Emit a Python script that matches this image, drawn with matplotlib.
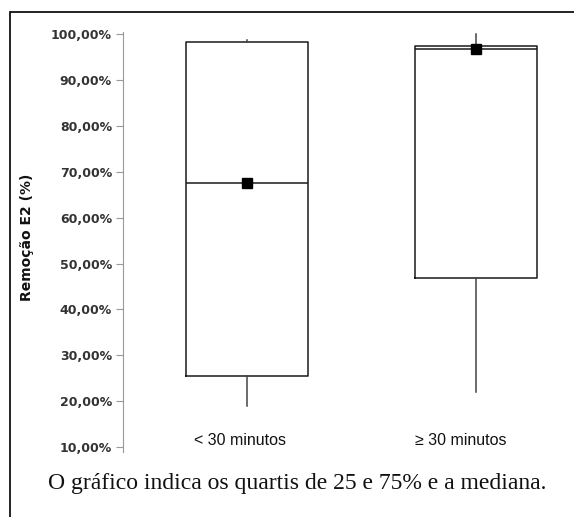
import matplotlib
matplotlib.use("Agg")
import matplotlib.pyplot as plt
from matplotlib.patches import Rectangle
from matplotlib.ticker import FuncFormatter

# box statistics (percent)
groups = ["< 30 minutos", "\u2265 30 minutos"]
whisker_low = [18.9, 22.0]
q1 = [25.5, 46.8]
median = [67.5, 96.7]
q3 = [98.3, 97.4]
whisker_high = [98.8, 100.0]
yticks = [10, 20, 30, 40, 50, 60, 70, 80, 90, 100]

fig = plt.figure(figsize=(5.74, 5.17), dpi=100)
W, H = 574, 517

# outer frame (runs off the right and bottom edge)
fig.patches.append(Rectangle((10 / W, -0.05), 1.2, 1 - 12 / H + 0.05,
                             transform=fig.transFigure, fill=False,
                             edgecolor="#111111", linewidth=1.3))

ax = fig.add_axes([123 / W, 1 - 452 / H, (560 - 123) / W, (452 - 32) / H])
ax.set_facecolor("none")

stats = []
for i in range(len(groups)):
    stats.append({"whislo": whisker_low[i], "q1": q1[i], "med": median[i],
                  "q3": q3[i], "whishi": whisker_high[i], "fliers": []})

ax.bxp(stats, positions=[1, 2], widths=0.533, showcaps=False,
       boxprops=dict(color="#1a1a1a", linewidth=1.1),
       whiskerprops=dict(color="#444444", linewidth=1.1),
       medianprops=dict(color="#1a1a1a", linewidth=1.1))
ax.plot([1, 2], median, linestyle="none", marker="s", markersize=7,
        color="black", zorder=5)

ax.set_xlim(0.459, 2.367)
ax.set_ylim(8.93, 100.44)
ax.set_yticks(yticks)
ax.yaxis.set_major_formatter(FuncFormatter(lambda v, p: f"{v:.2f}%".replace(".", ",")))
for lab in ax.get_yticklabels():
    lab.set_fontfamily("DejaVu Sans")
    lab.set_fontweight("bold")
    lab.set_fontsize(9)
    lab.set_color("#333333")
ax.tick_params(axis="y", length=5, width=0.8, color="#999999", pad=3)
ax.set_xticks([])
for side in ["top", "right", "bottom"]:
    ax.spines[side].set_visible(False)
ax.spines["left"].set_color("#999999")
ax.spines["left"].set_linewidth(0.8)

# group labels sit inside the plot area
label_x = [0.97, 1.934]
for x, g in zip(label_x, groups):
    ax.text(x, 11.5, g, ha="center", va="center", fontsize=11.5,
            family="Liberation Sans", color="#111111")

fig.text(27 / W, 1 - 237 / H, "Remoção E2 (%)", rotation=90, ha="center",
         va="center", fontsize=10, fontweight="bold", family="DejaVu Sans",
         color="#111111")

fig.text(297.5 / W, 1 - 483 / H,
         "O gráfico indica os quartis de 25 e 75% e a mediana.",
         ha="center", va="center", fontsize=17, family="Liberation Serif",
         color="#111111")

fig.savefig("out.png", dpi=100)
